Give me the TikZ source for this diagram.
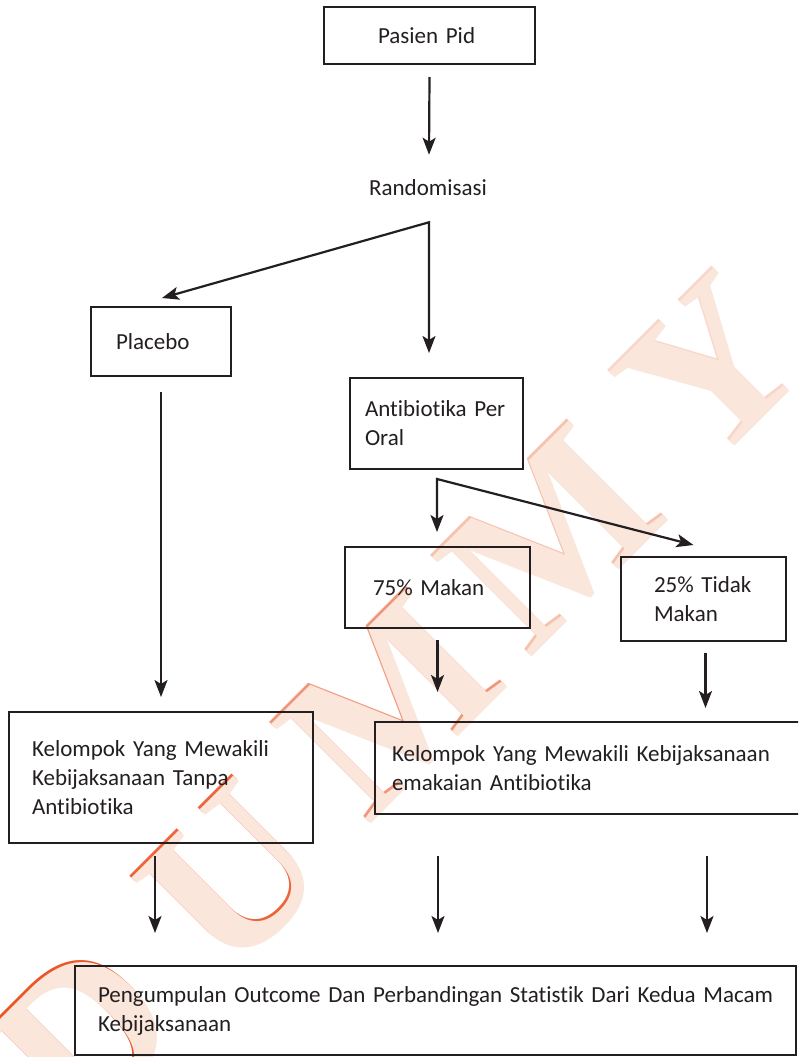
\documentclass[tikz,border=0pt]{standalone}
\usepackage{fontspec}
\setmainfont{Carlito}[Ligatures={NoCommon}]
\newfontfamily\wmfont{Liberation Serif}[UprightFont=*-Bold]
\usetikzlibrary{arrows.meta,calc}

\definecolor{ink}{RGB}{35,31,32}
\definecolor{wmfill}{RGB}{250,230,219}
\definecolor{wmedge}{RGB}{234,86,40}

\begin{document}
\begin{tikzpicture}[x=1pt,y=-1pt,
  txt/.style={text=ink, font=\fontsize{23}{29}\selectfont},
  box/.style={txt, draw=ink, line width=2.2pt, rectangle, anchor=north west,
              outer sep=0pt, inner ysep=0pt, align=left},
  tip/.tip={Stealth[length=17pt,width=13pt,inset=4pt]},
  arr/.style={draw=ink, line width=2.2pt, -tip},
  twoarr/.style={draw=ink, line width=2.2pt, tip-tip},
  wm/.style={font=\wmfont\fontsize{215}{215}\selectfont, rotate=45, inner sep=0pt}
]
\useasboundingbox (0,0) rectangle (798,1057);
\clip (0,0) rectangle (798,1057);
\fill[white] (0,0) rectangle (798,1057);

% background watermark lettering: a thin orange rim under a pale fill
\foreach \ch/\px/\py/\rim [count=\i] in {D/85/1035/100, U/233/878/90, M/390/705/55, M/551/538/25, Y/712/370/10} {
  \node[wm, text=wmedge!\rim!wmfill] (wms\i) at ($(\px,\py)+(-2,-2)$) {\ch};
  \node[wm, text=wmfill] (wm\i) at (\px,\py) {\ch};
}

% boxes
\node[box, minimum width=211pt, minimum height=57pt, inner xsep=54pt, text width=103pt]
  (pasien) at (324,7) {Pasien Pid};
\node[txt, inner sep=0pt] (rand) at (428,188) {Randomisasi};
\node[box, minimum width=140pt, minimum height=69pt, inner xsep=25pt, text width=90pt]
  (placebo) at (91,307) {Placebo};
\node[box, minimum width=173pt, minimum height=91pt, inner xsep=15pt, text width=143pt]
  (oral) at (350,378) {\mbox{Antibiotika Per}\\Oral};
\node[box, minimum width=185pt, minimum height=81pt, inner xsep=28pt, text width=129pt]
  (makan) at (345,547) {75\% Makan};
\node[box, minimum width=165pt, minimum height=84pt, inner xsep=33pt, text width=99pt]
  (tidak) at (621,557) {\mbox{25\% Tidak}\\Makan};
\node[box, minimum width=304pt, minimum height=131pt, inner xsep=23pt, text width=258pt]
  (tanpa) at (9,712) {Kelompok Yang Mewakili\\Kebijaksanaan Tanpa\\Antibiotika};
\node[box, minimum width=440pt, minimum height=92pt, inner xsep=17pt, text width=406pt]
  (pakai) at (375,722) {\mbox{Kelompok Yang Mewakili Kebijaksanaan}\\emakaian Antibiotika};
\node[box, minimum width=721pt, minimum height=89pt, inner xsep=23pt, text width=675pt]
  (hasil) at (75,966) {\mbox{Pengumpulan Outcome Dan Perbandingan Statistik Dari Kedua Macam}\\Kebijaksanaan};

% connectors
\draw[arr] ($(pasien.south)+(0,13)$) -- ($(rand.north)+(1,-25)$);
\coordinate (split1) at ($(rand.south)+(1,26)$);
\draw[twoarr] ($(placebo.north)+(1,-9)$) -- (split1) -- ($(oral.north)+(-7.5,-25)$);
\draw[arr] ($(placebo.south)+(0,16)$) -- ($(tanpa.north)+(0,-15)$);

\coordinate (split2) at ($(oral.south)+(0.5,10)$);
\draw[twoarr] ($(makan.north)+(-0.5,-15)$) -- (split2) -- ($(tidak.north)+(-10,-12)$);
\draw[arr] ($(makan.south)+(0,12)$) -- ($(makan.south |- pakai.north)+(0,-30)$);
\draw[arr] ($(tidak.south)+(2,12)$) -- ($(tidak.south |- pakai.north)+(2,-14)$);

\draw[arr] ($(tanpa.south)+(-6,13)$) -- ($(tanpa.south |- hasil.north)+(-6,-33)$);
\draw[arr] ($(makan.south |- pakai.south)+(0.5,42)$) -- ($(makan.south |- hasil.north)+(0.5,-33)$);
\draw[arr] ($(tidak.south |- pakai.south)+(3.5,42)$) -- ($(tidak.south |- hasil.north)+(3.5,-33)$);
\end{tikzpicture}
\end{document}
